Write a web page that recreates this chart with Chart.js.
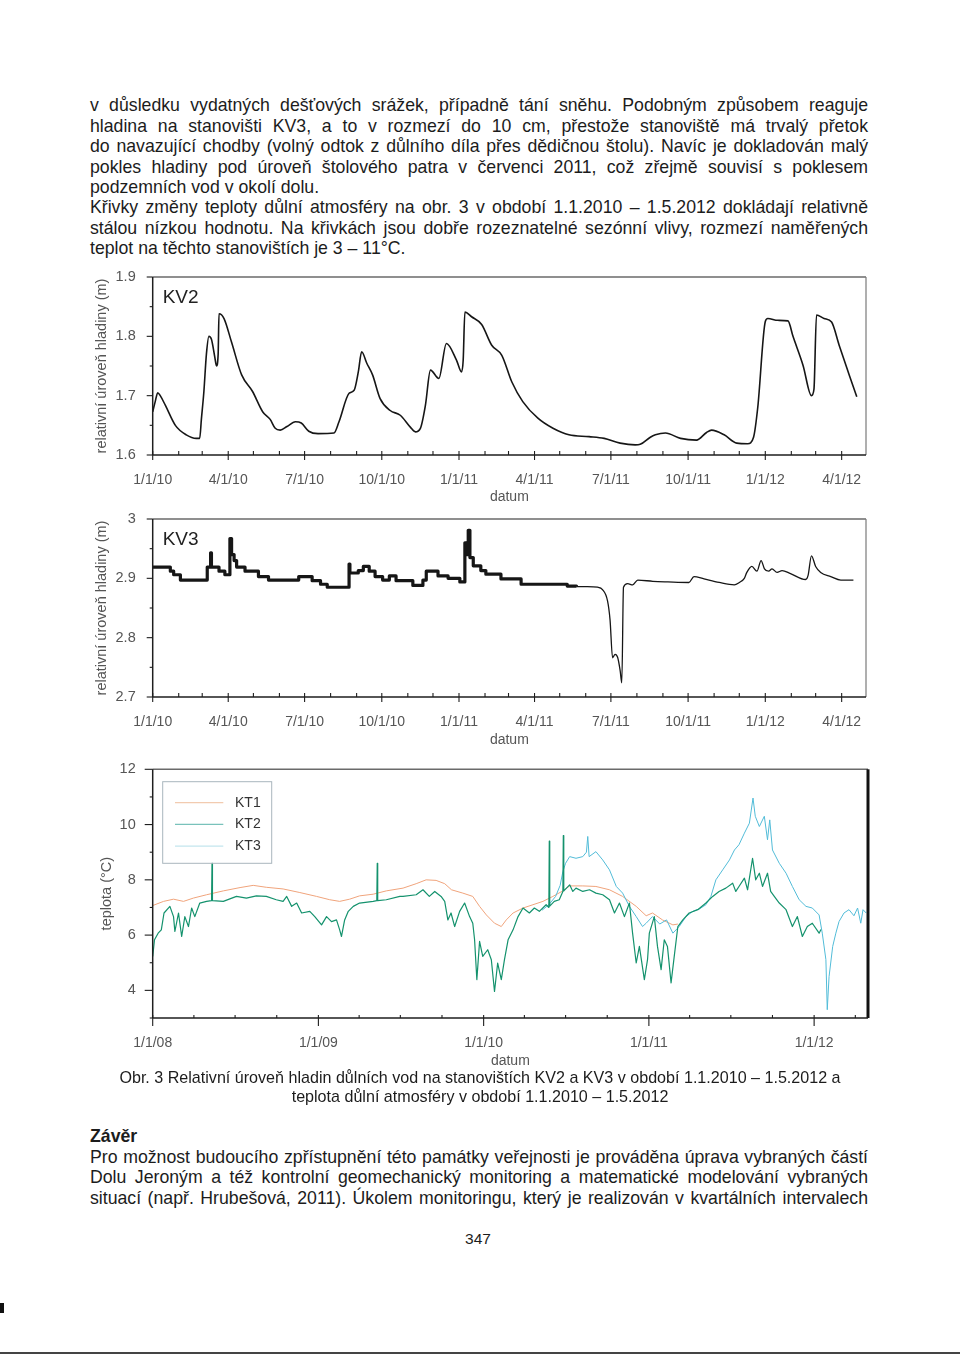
<!DOCTYPE html>
<html>
<head>
<meta charset="utf-8">
<script src="https://cdn.jsdelivr.net/npm/chart.js@4.4.0/dist/chart.umd.min.js"></script>
<style>
    body { margin: 0; background: #fff; }
    #page { position: relative; width: 960px; height: 1357px; overflow: hidden; background: #fff;
        font-family: "Liberation Sans", Arial, sans-serif; color: #1c1c1c; }
    .txt { position: absolute; left: 90px; width: 778px; font-size: 17.7px; line-height: 20.4px; }
    .txt div { white-space: nowrap; text-align: justify; text-align-last: justify; }
    .txt div.last { text-align-last: left; }
    .cap { position: absolute; left: 90px; width: 780px; top: 1068.4px; text-align: center;
        font-size: 16.1px; line-height: 18.7px; }
    .pnum { position: absolute; left: 440px; width: 76px; top: 1230px; text-align: center; font-size: 15.5px; }
    canvas { position: absolute; }
</style>
</head>
<body>
<div id="page">
    <div class="txt" style="top:95.4px">
        <div>v důsledku vydatných dešťových srážek, případně tání sněhu. Podobným způsobem reaguje</div>
        <div>hladina na stanovišti KV3, a to v rozmezí do 10 cm, přestože stanoviště má trvalý přetok</div>
        <div>do navazující chodby (volný odtok z důlního díla přes dědičnou štolu). Navíc je dokladován malý</div>
        <div>pokles hladiny pod úroveň štolového patra v červenci 2011, což zřejmě souvisí s poklesem</div>
        <div class="last">podzemních vod v okolí dolu.</div>
        <div>Křivky změny teploty důlní atmosféry na obr. 3 v období 1.1.2010 – 1.5.2012 dokládají relativně</div>
        <div>stálou nízkou hodnotu. Na křivkách jsou dobře rozeznatelné sezónní vlivy, rozmezí naměřených</div>
        <div class="last">teplot na těchto stanovištích je 3 – 11°C.</div>
    </div>

    <canvas id="kv2Chart" width="800" height="250" style="left:80px;top:262px"></canvas>
    <canvas id="kv3Chart" width="800" height="250" style="left:80px;top:505px"></canvas>
    <canvas id="tempChart" width="800" height="315" style="left:80px;top:755px"></canvas>

    <div class="cap">Obr. 3 Relativní úroveň hladin důlních vod na stanovištích KV2 a KV3 v období 1.1.2010 – 1.5.2012 a<br>teplota důlní atmosféry v období 1.1.2010 – 1.5.2012</div>

    <div class="txt" style="top:1126.4px">
        <div class="last" style="font-weight:bold">Závěr</div>
        <div>Pro možnost budoucího zpřístupnění této památky veřejnosti je prováděna úprava vybraných částí</div>
        <div>Dolu Jeroným a též kontrolní geomechanický monitoring a matematické modelování vybraných</div>
        <div>situací (např. Hrubešová, 2011). Úkolem monitoringu, který je realizován v kvartálních intervalech</div>
    </div>
    <div class="pnum">347</div>
    <div style="position:absolute;left:0;top:1303px;width:4px;height:10px;background:#111"></div>
    <div style="position:absolute;left:0;top:1352px;width:960px;height:2px;background:#444"></div>
</div>

<script>
// ----- data: vodní hladina (dny od 1.1.2010) -----
const kvTickDays = [0, 90, 181, 273, 365, 455, 546, 638, 730, 821];
const kvTickLabels = ['1/1/10', '4/1/10', '7/1/10', '10/1/10', '1/1/11', '4/1/11', '7/1/11', '10/1/11', '1/1/12', '4/1/12'];

const kv2Day = [0, 3, 6, 9, 15, 27, 40, 52, 56, 58, 61, 64, 67, 70, 74, 76, 78, 79, 85, 94, 106, 119, 131, 140, 146, 152,
    160, 170, 177, 186, 197, 216, 222, 234, 240, 245, 249, 255, 262, 271, 283, 295, 307, 313, 319, 325, 331, 341, 350,
    362, 368, 370, 372, 380, 392, 404, 416, 428, 441, 459, 477, 496, 520, 538, 557, 575, 581, 593, 599, 611, 629, 648,
    660, 666, 681, 696, 709, 716, 721, 730, 733, 745, 757, 763, 775, 785, 788, 791, 800, 809, 818, 830, 839];
const kv2Level = [1.673, 1.69, 1.705, 1.70, 1.684, 1.65, 1.634, 1.628, 1.628, 1.66, 1.707, 1.77, 1.80, 1.795, 1.765, 1.75,
    1.77, 1.838, 1.83, 1.79, 1.735, 1.707, 1.673, 1.66, 1.645, 1.642, 1.648, 1.656, 1.654, 1.640, 1.636, 1.637, 1.656,
    1.704, 1.709, 1.74, 1.774, 1.755, 1.735, 1.695, 1.675, 1.667, 1.647, 1.639, 1.645, 1.684, 1.743, 1.729, 1.788, 1.76,
    1.74, 1.76, 1.841, 1.833, 1.82, 1.785, 1.768, 1.723, 1.69, 1.662, 1.645, 1.634, 1.631, 1.628, 1.62, 1.617, 1.618,
    1.63, 1.634, 1.637, 1.628, 1.625, 1.638, 1.642, 1.634, 1.62, 1.619, 1.63, 1.68, 1.825, 1.83, 1.827, 1.826, 1.80,
    1.751, 1.70, 1.711, 1.836, 1.83, 1.824, 1.785, 1.735, 1.698];

// KV3 - schodovitý úsek (hodnota platí do dalšího bodu)
const kv3StepDay = [0, 21, 25, 33, 65, 69, 70, 79, 86, 92, 94, 97, 100, 110, 126, 138, 174, 190, 200, 208, 234, 235, 245,
    251, 258, 265, 274, 282, 290, 310, 322, 326, 340, 352, 366, 372, 374, 376, 378, 382, 391, 397, 415, 439, 494, 505];
const kv3StepLevel = [2.919, 2.912, 2.906, 2.897, 2.919, 2.943, 2.919, 2.912, 2.906, 2.967, 2.94, 2.93, 2.919, 2.912, 2.903,
    2.897, 2.903, 2.896, 2.89, 2.885, 2.924, 2.909, 2.913, 2.92, 2.912, 2.903, 2.897, 2.904, 2.896, 2.888, 2.897, 2.912,
    2.904, 2.9, 2.894, 2.96, 2.94, 2.981, 2.935, 2.921, 2.913, 2.907, 2.899, 2.89, 2.887, 2.886];
// KV3 - hladký úsek
const kv3Day = [505, 518, 530, 536, 542, 545, 548, 551, 554, 557, 559, 561, 566, 572, 578, 596, 614, 639, 645, 657, 675, 693,
    699, 705, 708, 714, 720, 725, 729, 734, 738, 744, 750, 760, 778, 781, 785, 790, 796, 808, 820, 835];
const kv3Level = [2.886, 2.886, 2.885, 2.881, 2.862, 2.83, 2.766, 2.772, 2.767, 2.745, 2.724, 2.885, 2.891, 2.889, 2.897,
    2.895, 2.894, 2.893, 2.903, 2.899, 2.893, 2.889, 2.893, 2.9, 2.91, 2.92, 2.912, 2.93, 2.916, 2.912, 2.916, 2.91, 2.913,
    2.908, 2.898, 2.905, 2.938, 2.92, 2.91, 2.903, 2.897, 2.897];

// ----- data: teplota (dny od 1.1.2008) -----
const ktTickDays = [0, 366, 731, 1096, 1461];
const ktTickLabels = ['1/1/08', '1/1/09', '1/1/10', '1/1/11', '1/1/12'];

const kt1Day = [0, 24, 46, 68, 90, 119, 156, 193, 222, 251, 288, 325, 362, 391, 413, 435, 457, 487, 516, 553, 582, 604,
    626, 645, 660, 685, 707, 722, 737, 755, 770, 781, 796, 818, 840, 862, 884, 906, 921, 950, 979, 1009, 1038, 1068,
    1090, 1104, 1126, 1149, 1160];
const kt1Temp = [7.07, 7.22, 7.30, 7.22, 7.34, 7.46, 7.60, 7.72, 7.80, 7.73, 7.67, 7.54, 7.40, 7.28, 7.22, 7.30, 7.42,
    7.48, 7.60, 7.70, 7.86, 8.0, 7.98, 7.86, 7.64, 7.52, 7.40, 7.04, 6.73, 6.43, 6.31, 6.55, 6.80, 6.98, 7.10, 7.22, 7.40,
    7.60, 7.78, 7.78, 7.76, 7.64, 7.40, 7.04, 6.70, 6.80, 6.55, 6.37, 6.40];

const kt2Day = [0, 4, 12, 19, 25, 38, 46, 49, 57, 64, 71, 79, 86, 93, 104, 119, 130, 131, 132, 156, 185, 207, 229, 251,
    273, 288, 296, 307, 318, 329, 347, 358, 373, 384, 395, 406, 413, 417, 424, 432, 443, 457, 487, 495, 496, 497, 516,
    546, 553, 582, 597, 611, 623, 637, 645, 652, 659, 667, 678, 689, 700, 707, 711, 716, 722, 729, 740, 748, 755, 762,
    770, 777, 785, 796, 807, 818, 832, 843, 854, 869, 875, 876, 877, 887, 898, 906, 907, 908, 921, 928, 935, 950, 965,
    979, 994, 1009, 1020, 1031, 1042, 1053, 1060, 1068, 1075, 1086, 1093, 1097, 1108, 1115, 1123, 1130, 1137, 1145,
    1152, 1160, 1171, 1185, 1204, 1222, 1237, 1251, 1266, 1281, 1288, 1295, 1307, 1314, 1325, 1332, 1340, 1347, 1358,
    1365, 1373, 1384, 1399, 1413, 1424, 1435, 1446, 1457, 1472, 1476];
const kt2Temp = [5.23, 5.83, 6.07, 6.19, 6.80, 7.04, 6.67, 6.13, 6.80, 5.95, 6.67, 6.31, 6.98, 6.67, 7.16, 7.22, 7.25,
    8.6, 7.25, 7.22, 7.40, 7.34, 7.42, 7.40, 7.28, 7.22, 7.40, 7.04, 7.16, 6.80, 6.86, 6.67, 6.37, 6.67, 6.49, 6.55,
    6.19, 5.95, 6.55, 6.86, 7.04, 7.16, 7.22, 7.25, 8.6, 7.25, 7.28, 7.40, 7.40, 7.46, 7.64, 7.40, 7.58, 7.40, 7.22,
    6.55, 6.80, 6.31, 6.86, 7.16, 6.67, 6.43, 5.83, 4.39, 5.77, 5.23, 5.47, 5.11, 3.96, 4.99, 4.39, 5.11, 5.83, 6.19,
    6.67, 6.98, 6.80, 6.98, 6.86, 7.10, 7.0, 9.4, 7.05, 7.22, 7.28, 7.58, 9.6, 7.6, 7.82, 7.58, 7.70, 7.58, 7.64, 7.52,
    7.46, 7.28, 6.80, 7.16, 6.67, 7.16, 6.07, 4.99, 5.59, 4.39, 5.11, 6.07, 6.67, 5.59, 4.75, 5.83, 5.59, 4.27, 5.23,
    6.31, 6.55, 6.80, 6.92, 7.16, 7.40, 7.58, 7.70, 7.88, 7.58, 7.76, 8.06, 7.64, 8.78, 8.0, 8.24, 7.76, 8.24, 7.58,
    7.40, 7.16, 6.92, 6.31, 6.67, 5.95, 6.31, 6.43, 6.07, 6.2];

const kt3Day = [860, 875, 890, 900, 906, 912, 921, 935, 950, 958, 961, 964, 979, 994, 1009, 1024, 1038, 1053, 1068, 1082,
    1090, 1104, 1120, 1135, 1149, 1163, 1178, 1193, 1208, 1222, 1233, 1244, 1259, 1274, 1285, 1295, 1307, 1318, 1326,
    1331, 1340, 1351, 1358, 1363, 1369, 1384, 1399, 1413, 1428, 1443, 1457, 1472, 1479, 1487, 1490, 1494, 1502, 1509,
    1516, 1527, 1538, 1549, 1557, 1564, 1569, 1576];
const kt3Temp = [6.9, 7.1, 7.4, 7.8, 8.3, 8.6, 8.84, 8.78, 8.84, 9.0, 9.57, 8.84, 9.02, 8.72, 8.36, 7.76, 7.52, 7.04, 6.67,
    6.31, 6.43, 6.67, 6.4, 6.55, 6.07, 6.31, 6.67, 6.86, 6.95, 7.10, 7.4, 8.0, 8.36, 8.72, 9.08, 9.27, 9.69, 10.05, 10.96,
    10.3, 9.93, 10.3, 9.45, 10.17, 9.08, 8.6, 8.24, 7.76, 7.28, 7.04, 6.98, 6.73, 6.07, 5.11, 3.3, 4.5, 5.59, 6.07, 6.49,
    6.80, 6.92, 6.7, 6.98, 6.43, 6.92, 6.8];

// ----- pomocné -----
Chart.defaults.font.family = '"Liberation Sans", Arial, sans-serif';
Chart.defaults.color = '#555';
Chart.defaults.animation = false;

const zip = (xs, ys) => xs.map((x, i) => ({x: x, y: ys[i]}));
const monthDay = (y, m, base) => (Date.UTC(y, m, 1) - Date.UTC(base, 0, 1)) / 864e5;
const kvMonths = [];
for (let m = 0; m <= 27; m++) kvMonths.push(monthDay(2010, m, 2010));
const ktQuarters = [];
for (let q = 0; q <= 17; q++) ktQuarters.push(monthDay(2008, q * 3, 2008));

// rámeček, tick značky, popisek a legenda
const frame = {
    id: 'frame',
    afterDraw(chart, args, o) {
        const {ctx, chartArea: a, scales: {x, y}} = chart;
        const seg = (x1, y1, x2, y2) => { ctx.beginPath(); ctx.moveTo(x1, y1); ctx.lineTo(x2, y2); ctx.stroke(); };
        ctx.save();
        ctx.strokeStyle = '#6a6a6a'; ctx.lineWidth = 1.6;
        seg(a.left, a.top, a.right, a.top);
        ctx.strokeStyle = o.rightColor; ctx.lineWidth = o.rightWidth;
        seg(a.right, a.top, a.right, a.bottom);
        ctx.strokeStyle = '#1e1e1e'; ctx.lineWidth = 1.5;
        seg(a.left, a.top, a.left, a.bottom);
        seg(a.left, a.bottom, a.right, a.bottom);
        ctx.lineWidth = 1.1;
        o.xTicks.forEach(t => t.v.forEach(v => {
            const px = x.getPixelForValue(v);
            seg(px, a.bottom + t.out, px, a.bottom - t.in);
        }));
        o.yTicks.forEach(t => t.v.forEach(v => {
            const py = y.getPixelForValue(v);
            seg(a.left - t.out, py, a.left + t.in, py);
        }));
        if (o.label) {
            ctx.fillStyle = '#222';
            ctx.font = '19px "Liberation Sans", Arial, sans-serif';
            ctx.textBaseline = 'alphabetic';
            ctx.fillText(o.label, a.left + 10, a.top + 25.5);
        }
        if (o.legend) {
            const L = o.legend;
            ctx.strokeStyle = '#a9b6bd'; ctx.lineWidth = 1;
            ctx.strokeRect(a.left + 10, a.top + 12.4, 109, 81.6);
            ctx.font = '14px "Liberation Sans", Arial, sans-serif';
            ctx.textBaseline = 'middle';
            ctx.fillStyle = '#333';
            L.forEach((it, i) => {
                const ly = a.top + 33.4 + i * 21.7;
                ctx.strokeStyle = it.color; ctx.lineWidth = 1.2;
                seg(a.left + 22.3, ly, a.left + 70.6, ly);
                ctx.fillText(it.text, a.left + 82.3, ly);
            });
        }
        ctx.restore();
    }
};

function axisX(max, tickDays, tickLabels, height, titlePad) {
    return {
        type: 'linear', min: 0, max: max,
        grid: {display: false, drawTicks: false}, border: {display: false},
        afterBuildTicks: s => { s.ticks = tickDays.map(v => ({value: v})); },
        afterFit: s => { s.height = height; s.paddingLeft = 0; s.paddingRight = 0; },
        ticks: {autoSkip: false, maxRotation: 0, padding: 17, font: {size: 14}, color: '#555',
            callback: (v, i) => tickLabels[i]},
        title: {display: true, text: 'datum', font: {size: 14}, color: '#555', padding: {top: 0, bottom: titlePad}}
    };
}

function axisY(min, max, vals, title, titlePad) {
    return {
        min: min, max: max,
        grid: {display: false, drawTicks: false}, border: {display: false},
        afterBuildTicks: s => { s.ticks = vals.map(v => ({value: v})); },
        afterFit: s => { s.width = 72.7; s.paddingTop = 0; s.paddingBottom = 0; },
        ticks: {padding: 17, font: {size: 14.5}, color: '#555', callback: v => String(+v.toFixed(1))},
        title: {display: true, text: title, font: {size: 14.5}, color: '#555', padding: {top: titlePad, bottom: 0}}
    };
}

const lineDs = (data, color, width, extra) => Object.assign({
    data: data, borderColor: color, borderWidth: width, pointRadius: 0, tension: 0,
    borderJoinStyle: 'round', fill: false
}, extra || {});

//------ KV2 ------------
new Chart(document.getElementById('kv2Chart'), {
    type: 'line',
    data: {datasets: [lineDs(zip(kv2Day, kv2Level), '#161616', 1.6, {cubicInterpolationMode: 'monotone'})]},
    options: {
        responsive: false,
        layout: {padding: {top: 15, right: 14, left: 0, bottom: 0}},
        scales: {
            x: axisX(850, kvTickDays, kvTickLabels, 57, 6),
            y: axisY(1.6, 1.9, [1.6, 1.7, 1.8, 1.9], 'relativní úroveň hladiny (m)', 13.4)
        },
        plugins: {
            legend: {display: false}, tooltip: {enabled: false},
            frame: {
                rightColor: '#7a7a7a', rightWidth: 1.2, label: 'KV2',
                xTicks: [{v: kvMonths, out: 0, in: 4}, {v: kvTickDays, out: 5, in: 0}],
                yTicks: [{v: [1.6, 1.7, 1.8, 1.9], out: 6, in: 0}, {v: [1.65, 1.75, 1.85], out: 3, in: 0}]
            }
        }
    },
    plugins: [frame]
});

//------ KV3 ------------
new Chart(document.getElementById('kv3Chart'), {
    type: 'line',
    data: {datasets: [
        lineDs(zip(kv3StepDay, kv3StepLevel), '#161616', 3.2, {stepped: 'before'}),
        lineDs(zip(kv3Day, kv3Level), '#161616', 1.3, {cubicInterpolationMode: 'monotone'})
    ]},
    options: {
        responsive: false,
        layout: {padding: {top: 14, right: 14, left: 0, bottom: 0}},
        scales: {
            x: axisX(850, kvTickDays, kvTickLabels, 58, 6.6),
            y: axisY(2.7, 3.0, [2.7, 2.8, 2.9, 3.0], 'relativní úroveň hladiny (m)', 13.4)
        },
        plugins: {
            legend: {display: false}, tooltip: {enabled: false},
            frame: {
                rightColor: '#7a7a7a', rightWidth: 1.2, label: 'KV3',
                xTicks: [{v: kvMonths, out: 0, in: 4}, {v: kvTickDays, out: 5, in: 0}],
                yTicks: [{v: [2.7, 2.8, 2.9, 3.0], out: 6, in: 0}, {v: [2.75, 2.85, 2.95], out: 3, in: 0}]
            }
        }
    },
    plugins: [frame]
});

//------ Teplota ------------
new Chart(document.getElementById('tempChart'), {
    type: 'line',
    data: {datasets: [
        lineDs(zip(kt1Day, kt1Temp), '#f0a47c', 1, {label: 'KT1', order: 3}),
        lineDs(zip(kt2Day, kt2Temp), '#14926d', 1.2, {label: 'KT2', order: 1}),
        lineDs(zip(kt3Day, kt3Temp), '#52bcd8', 1, {label: 'KT3', order: 2})
    ]},
    options: {
        responsive: false,
        layout: {padding: {top: 14.3, right: 12, left: 0, bottom: 0}},
        scales: {
            x: axisX(1580, ktTickDays, ktTickLabels, 52, 0.6),
            y: axisY(3, 12, [4, 6, 8, 10, 12], 'teplota (°C)', 18.4)
        },
        plugins: {
            legend: {display: false}, tooltip: {enabled: false},
            frame: {
                rightColor: '#111', rightWidth: 3,
                xTicks: [{v: ktQuarters, out: 0, in: 3}, {v: ktTickDays, out: 8, in: 0}],
                yTicks: [{v: [4, 6, 8, 10, 12], out: 8, in: 0}, {v: [3, 5, 7, 9, 11], out: 3, in: 0}],
                legend: [{text: 'KT1', color: '#f2cbb0'}, {text: 'KT2', color: '#79c2bb'}, {text: 'KT3', color: '#c3e6ee'}]
            }
        }
    },
    plugins: [frame]
});

// zúžení řádků, které přetékají
document.querySelectorAll('.txt div').forEach(el => {
    let ws = 0;
    while (el.scrollWidth > el.clientWidth + 0.5 && ws > -4) {
        ws -= 0.25;
        el.style.wordSpacing = ws + 'px';
    }
});
</script>
</body>
</html>
